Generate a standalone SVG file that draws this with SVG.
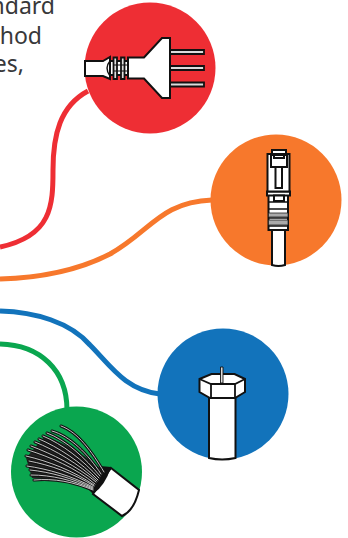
<svg xmlns="http://www.w3.org/2000/svg" width="348" height="538" viewBox="0 0 348 538">
<style>
.t{font-family:"Noto Sans","Open Sans",sans-serif;font-size:23px;fill:#38383a;text-anchor:end}
.c{fill:none;stroke-width:5}
.k{fill:#fff;stroke:#111;stroke-width:2;stroke-linejoin:miter}
.g{fill:#ddd;stroke:#111;stroke-width:1.800}
.w{fill:none;stroke:#111;stroke-width:3;stroke-linecap:round}
.h{fill:none;stroke:#d8d8d8;stroke-width:.9;stroke-linecap:round}
</style>
<g id="text">
<text class="t" x="55" y="14">ndard</text>
<text class="t" x="42" y="44">hod</text>
<text class="t" x="24" y="72">es,</text>
</g>
<g id="connectors">
<path class="c" stroke="#ee2e34" d="M88 91C60 106 53 135 53 170C53 205 52 236 0 247"/>
<path class="c" stroke="#f7782c" d="M212 200C160 202 150 232 110 254C75 272 35 278 0 279"/>
<path class="c" stroke="#1273bb" d="M160 394C125 390 110 365 90 345C70 322 35 312 0 311"/>
<path class="c" stroke="#0aa64f" d="M67 410C67 370 40 345 0 344"/>
</g>
<g id="node-plug">
<circle cx="150" cy="68" r="65.500" fill="#ee2e34"/>
<path class="k" d="M85 61H103L110 57V79L103 76H85Z"/>
<path class="g" d="M170 50H204V54H170ZM170 66H204V70H170ZM170 82.500H204V86.500H170Z"/>
<path class="k" d="M128 57.500H144L162 38H170V98H162L144 78.500H128Z"/>
<path class="k" d="M110 61H128V75H110Z"/>
<path d="M110 61Q104 68 110 76" fill="none" stroke="#111" stroke-width="1.400"/>
<path class="g" d="M113.500 57.500H117V79H113.500ZM121 57.500H124.500V79H121Z"/>
<path d="M113.500 65H128M113.500 71H128" stroke="#111" stroke-width="1.200"/>
</g>
<g id="node-rj45">
<circle cx="276" cy="200" r="65.500" fill="#f7782c"/>
<path class="k" d="M272 265V230H285V265Q278.500 267 272 265Z"/>
<path class="k" d="M268.500 194H288V230H268.500Z"/>
<path d="M268.500 202H288M268.500 209H288M268.500 218H288M268.500 226H288" stroke="#111" stroke-width="1.500"/>
<path d="M268.500 213H288V217H268.500ZM268.500 220H288V225H268.500Z" fill="#aaa" stroke="#222" stroke-width=".8"/>
<path class="k" d="M267 191.500H290V195.500H267Z"/>
<path class="k" d="M267.500 154H289.500V191.500H267.500Z"/>
<path class="k" d="M272 150H286V154H272Z"/>
<path class="k" d="M271 155H287V167H271Z"/>
<path class="k" d="M275.500 167H282V188H275.500Z"/>
<path class="k" d="M274 155H284V158H274Z"/>
<path class="k" d="M274 195.500H284V201H274Z"/>
</g>
<g id="node-f-connector">
<circle cx="223" cy="394" r="65.500" fill="#1273bb"/>
<path class="k" d="M209 397H235.500V458Q222 461 209 458Z"/>
<path class="k" d="M199.500 379L211.500 374H234.500L245 379V392L235 398H210L199.500 392Z"/>
<path d="M199.500 379L211 384H235L245 379M211 384V397M235 384V397" fill="none" stroke="#111" stroke-width="1.800"/>
<path d="M220.500 367H223V383H220.500Z" fill="#ddd" stroke="#111" stroke-width=".9"/>
</g>
<g id="node-cable">
<circle cx="76.500" cy="472" r="65.500" fill="#0aa64f"/>
<path class="k" d="M111 468L139 490Q134 511 122 516L93 494Z"/>
<path d="M93 494Q105 486 111 467L100 466L88 489Z" fill="#111"/>
<path d="M45 436C66 444 88 456 104 472L93 490C74 482 52 478 32 478L26 458Z" fill="#222"/>
<g id="strands-dark">
<path class="w" d="M61 426C78 432 92 452 104 472"/>
<path class="w" d="M52 431C70 436 88 454 101 474"/>
<path class="w" d="M47 433C66 440 85 458 100 476"/>
<path class="w" d="M43 436C62 444 83 460 99 478"/>
<path class="w" d="M39 439C58 447 81 462 98 480"/>
<path class="w" d="M35 442C55 450 79 464 97 481"/>
<path class="w" d="M31 446C52 454 77 466 96 482"/>
<path class="w" d="M28 450C50 457 76 468 95 484"/>
<path class="w" d="M26 456C48 461 74 471 94 485"/>
<path class="w" d="M29 461C50 465 73 473 94 486"/>
<path class="w" d="M27 466C48 469 72 476 93 487"/>
<path class="w" d="M30 470C50 472 72 478 93 488"/>
<path class="w" d="M31 475C52 475 72 480 93 489"/>
<path class="w" d="M34 480C54 478 74 482 93 490"/>
</g>
<g id="strands-light">
<path class="h" d="M61 426C78 432 92 452 104 472"/>
<path class="h" d="M52 431C70 436 88 454 101 474"/>
<path class="h" d="M47 433C66 440 85 458 100 476"/>
<path class="h" d="M43 436C62 444 83 460 99 478"/>
<path class="h" d="M39 439C58 447 81 462 98 480"/>
<path class="h" d="M35 442C55 450 79 464 97 481"/>
<path class="h" d="M31 446C52 454 77 466 96 482"/>
<path class="h" d="M28 450C50 457 76 468 95 484"/>
<path class="h" d="M26 456C48 461 74 471 94 485"/>
<path class="h" d="M29 461C50 465 73 473 94 486"/>
<path class="h" d="M27 466C48 469 72 476 93 487"/>
<path class="h" d="M30 470C50 472 72 478 93 488"/>
<path class="h" d="M31 475C52 475 72 480 93 489"/>
<path class="h" d="M34 480C54 478 74 482 93 490"/>
</g>
</g>
</svg>
